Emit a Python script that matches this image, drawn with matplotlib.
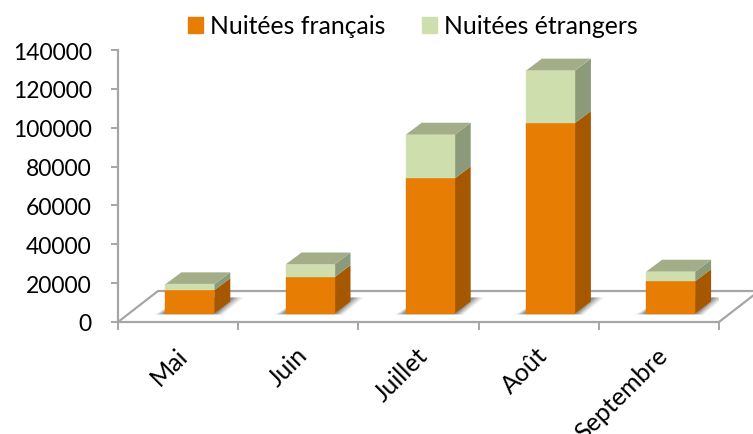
import matplotlib
matplotlib.use('Agg')
import matplotlib.pyplot as plt
from matplotlib.patches import Patch

months = ['Mai', 'Juin', 'Juillet', 'Août', 'Septembre']
francais = [12000, 18700, 69500, 98000, 16600]
etrangers = [3000, 6500, 22500, 27000, 4900]
y_ticks = [0, 20000, 40000, 60000, 80000, 100000, 120000, 140000]

plt.rcParams['font.family'] = ['Lato', 'DejaVu Sans']

fig = plt.figure(figsize=(7.53, 4.35), dpi=100)
ax = fig.add_axes([118 / 753, (435 - 323) / 435, 601 / 753, 272 / 435])
ax.set_xlim(0, 5)
ax.set_ylim(0, 140000)

# pixel sizes turned into data units
px_x = 5 / 601
px_y = 140000 / 272
grey = '#a6a6a6'

# floor of the fake 3d box
floor_dx = 40 * px_x
floor_dy = 31 * px_y
ax.plot([0, floor_dx, 5 + floor_dx, 5], [0, floor_dy, floor_dy, 0],
        color=grey, lw=1.6, clip_on=False, zorder=1, solid_capstyle='butt')

width = 49 * px_x
dep_x = 16 * px_x
dep_y = 12 * px_y
base = 8.5 * px_y
shift = 11.7 * px_x


def box(x, low, high, front, side, top):
    ax.bar(x, high - low, width, bottom=low, color=front, zorder=4,
           edgecolor=front, linewidth=0.3)
    r = x + width / 2
    ax.fill([r, r + dep_x, r + dep_x, r],
            [low, low + dep_y, high + dep_y, high], color=side, lw=0, zorder=3)
    if top:
        ax.fill([r - width, r - width + dep_x, r + dep_x, r],
                [high, high + dep_y, high + dep_y, high],
                color='#a3ae88', lw=0, zorder=3)


for i in range(len(months)):
    x = i + 0.5 + shift
    l = x - width / 2
    r = x + width / 2
    # soft shadow on the floor
    for grow, a in [(13, 0.12), (10, 0.18), (7, 0.26), (4, 0.34)]:
        g = grow * px_x
        low = base - 0.1 * grow * px_y
        ax.fill([l - g * 0.8, r + g * 0.6, r + dep_x + g, l + dep_x],
                [low, low, base + dep_y + 4 * px_y, base + dep_y + 4 * px_y],
                color='#555555', alpha=a, lw=0, zorder=2)
    mid = base + francais[i]
    tip = mid + etrangers[i]
    box(x, base, mid, '#e87d03', '#a55800', False)
    box(x, mid, tip, '#cfdead', '#8b9a78', True)

for s in ['top', 'right']:
    ax.spines[s].set_visible(False)
for s in ['left', 'bottom']:
    ax.spines[s].set_color(grey)
    ax.spines[s].set_linewidth(1.6)

ax.set_yticks(y_ticks)
ax.set_yticklabels([str(v) for v in y_ticks], fontsize=16.5, color='black')
ax.tick_params(axis='y', color=grey, width=1.4, length=5, pad=14)
ax.set_xticks(range(6))
ax.set_xticklabels([])
ax.tick_params(axis='x', color=grey, width=1.4, length=6)

for i, m in enumerate(months):
    ax.annotate(m, (i + 0.5, 0), xytext=(-2, -15), textcoords='offset points',
                rotation=45, ha='right', va='top', rotation_mode='anchor',
                fontsize=18, annotation_clip=False)

handles = [Patch(color='#e87d03'), Patch(color='#cfdead')]
fig.legend(handles, ['Nuitées français', 'Nuitées étrangers'], ncol=2, frameon=False,
           loc='center', bbox_to_anchor=(413 / 753, 1 - 27 / 435), fontsize=17.8,
           handlelength=0.61, handleheight=0.61, handletextpad=0.28, columnspacing=1.46)

fig.savefig('out.png', dpi=100)
